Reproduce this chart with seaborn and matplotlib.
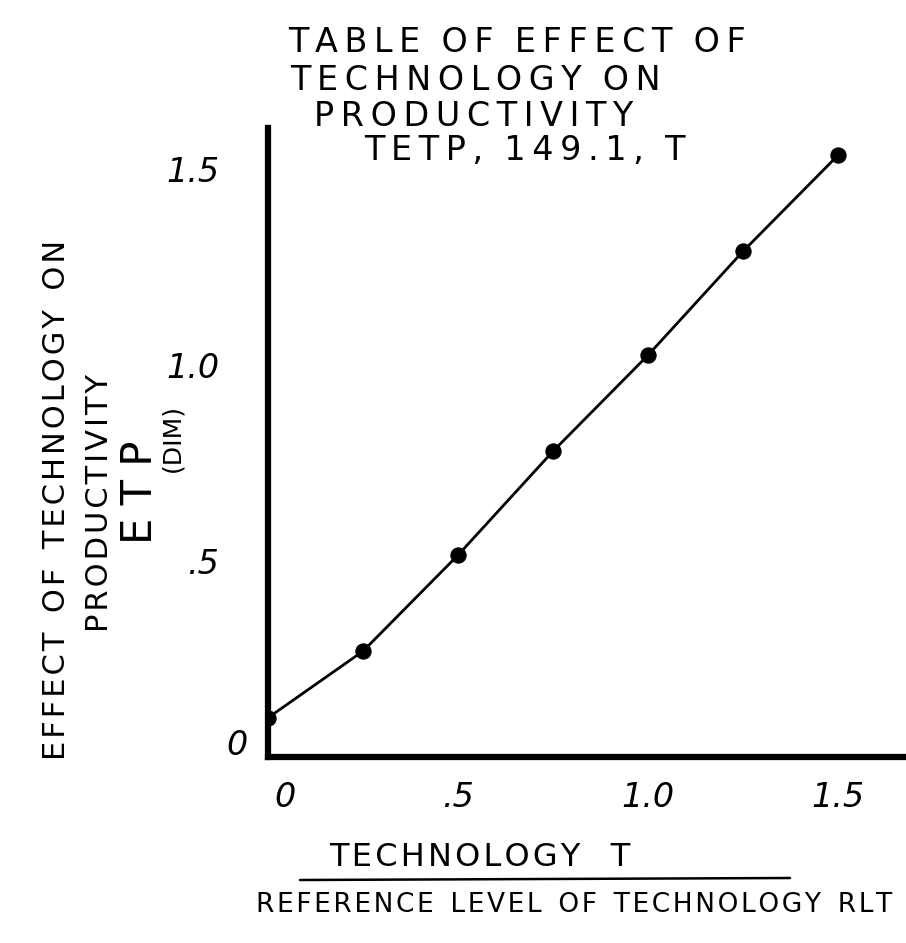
import matplotlib
matplotlib.use("Agg")
import matplotlib.pyplot as plt
from matplotlib.lines import Line2D
from matplotlib.transforms import ScaledTranslation
import seaborn as sns
import pandas as pd

# Table function TETP: technology ratio T/RLT versus effect on productivity ETP
technology_ratio = [0.0, 0.25, 0.5, 0.75, 1.0, 1.25, 1.5]
etp_values = [0.10, 0.27, 0.515, 0.78, 1.025, 1.29, 1.535]

x_ticks = [0.0, 0.5, 1.0, 1.5]
x_tick_labels = ["0", ".5", "1.0", "1.5"]
y_ticks = [0.0, 0.5, 1.0, 1.5]
y_tick_labels = ["0", ".5", "1.0", "1.5"]

title_lines = ["TABLE OF EFFECT OF", "TECHNOLOGY ON", "PRODUCTIVITY", "TETP, 149.1, T"]

sns.set_style("white")
plt.rcParams["font.family"] = ["DejaVu Sans"]
plt.rcParams["text.color"] = "black"
plt.rcParams["xtick.color"] = "black"
plt.rcParams["ytick.color"] = "black"

THIN = "\u2009"
HAIR = "\u200a"


def spaced(text, gap=THIN, word_gap="   "):
    """Letter-spaced lettering, like hand-printed capitals."""
    return word_gap.join(gap.join(word) for word in text.split(" "))


df = pd.DataFrame({"T/RLT": technology_ratio, "ETP": etp_values})

W, H = 906, 943
fig = plt.figure(figsize=(W / 100, H / 100), dpi=100)
ax = fig.add_axes([268 / W, 1 - 757 / H, (W - 268) / W, (757 - 128) / H])

sns.lineplot(data=df, x="T/RLT", y="ETP", ax=ax, color="black", linewidth=2.0,
             marker="o", markersize=11, markeredgecolor="black",
             markerfacecolor="black")

ax.set_xlim(0, (W - 268) / 380)
ax.set_ylim(0, (757 - 128) / 392)

for side in ("top", "right"):
    ax.spines[side].set_visible(False)
for side in ("left", "bottom"):
    ax.spines[side].set_linewidth(4.5)
    ax.spines[side].set_color("black")

ax.set_xticks(x_ticks)
ax.set_xticklabels(x_tick_labels, fontsize=24, style="italic")
ax.set_yticks(y_ticks)
ax.set_yticklabels(y_tick_labels, fontsize=24, style="italic")
ax.tick_params(axis="y", direction="out", length=27, width=2, pad=8)
ax.tick_params(axis="x", direction="out", length=5, width=2, pad=12)
ax.yaxis.get_major_ticks()[0].tick1line.set_visible(False)
ax.set_xlabel("")
ax.set_ylabel("")

# Origin labels sit a little inside the corner
ylab0 = ax.get_yticklabels()[0]
ylab0.set_transform(ylab0.get_transform() + ScaledTranslation(0.28, 0.15, fig.dpi_scale_trans))
xlab0 = ax.get_xticklabels()[0]
xlab0.set_transform(xlab0.get_transform() + ScaledTranslation(0.17, 0.0, fig.dpi_scale_trans))

# Title block
title_pos = [(288, 42), (290, 80), (314, 116), (364, 150)]
for (px, py), line in zip(title_pos, title_lines):
    fig.text(px / W, 1 - py / H, spaced(line, THIN, "  "), fontsize=24,
             ha="left", va="center")

# Y-axis label stack
fig.text(57 / W, 1 - 500 / H, spaced("EFFECT OF TECHNOLOGY ON", HAIR, "  "),
         rotation=90, fontsize=22, ha="center", va="center")
fig.text(100 / W, 1 - 503 / H, spaced("PRODUCTIVITY", HAIR), rotation=90,
         fontsize=22, ha="center", va="center")
fig.text(140 / W, 1 - 492 / H, "E T P", rotation=90,
         fontsize=30, ha="center", va="center")
fig.text(172 / W, 1 - 438 / H, "(DIM)", rotation=90,
         fontsize=18, ha="center", va="center")

# X-axis label as a ratio
fig.text(480 / W, 1 - 857 / H, spaced("TECHNOLOGY T", HAIR, "   "), fontsize=23,
         ha="center", va="center")
fig.add_artist(Line2D([300 / W, 790 / W], [1 - 880 / H, 1 - 878 / H],
                      color="black", linewidth=1.8, transform=fig.transFigure))
fig.text(574 / W, 1 - 905 / H, spaced("REFERENCE LEVEL OF TECHNOLOGY RLT", HAIR, "  "),
         fontsize=19, ha="center", va="center")

fig.savefig("out.png", dpi=100, facecolor="white")
